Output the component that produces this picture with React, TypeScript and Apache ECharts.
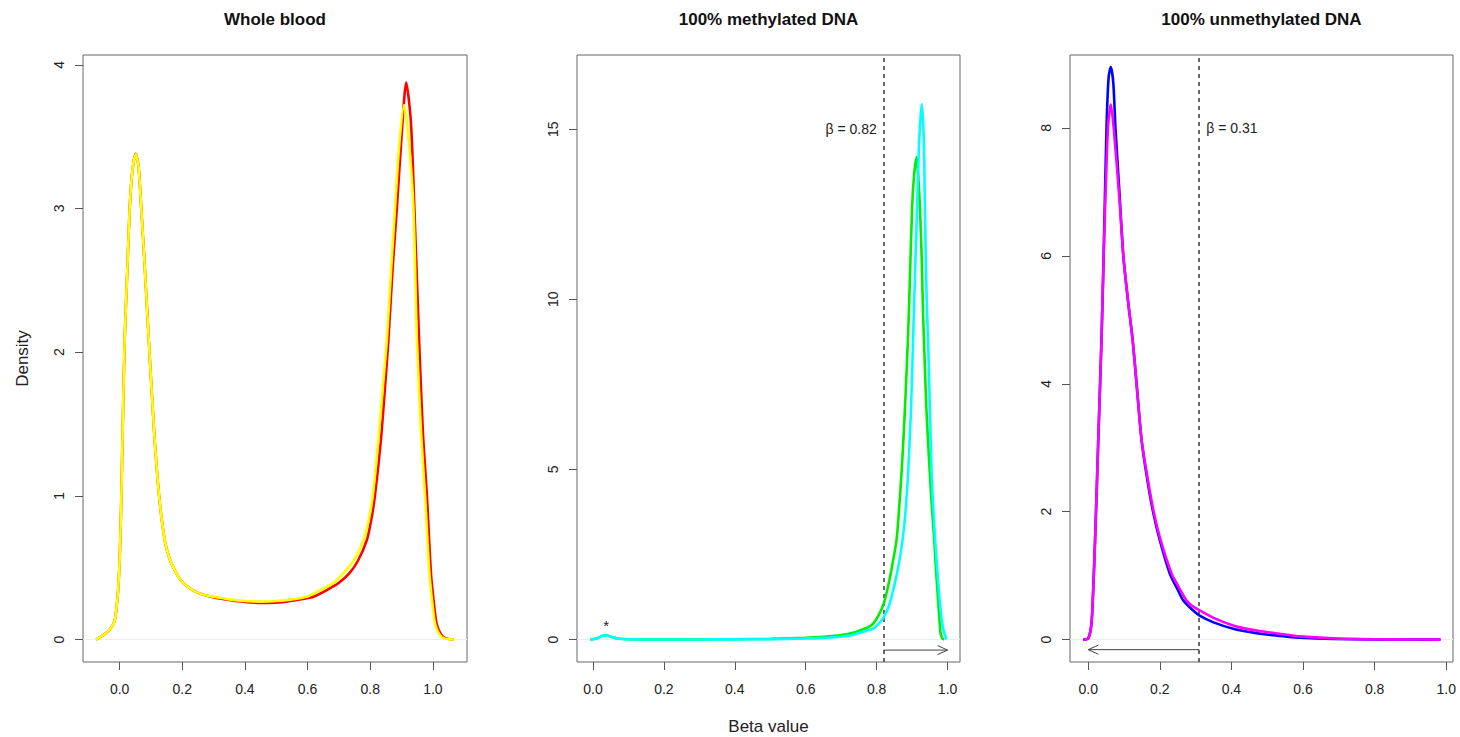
import React, { useEffect, useRef } from "react";
import * as echarts from "echarts";

// ---------- Panel 1: Whole blood ----------
const WB_RED_X = [-0.075,-0.06,-0.04,-0.025,-0.016,-0.01,-0.005,0,0.005,0.01,0.016,0.025,0.032,0.04,0.051,0.06,0.069,0.08,0.093,0.11,0.126,0.144,0.16,0.181,0.2,0.234,0.27,0.309,0.35,0.4,0.46,0.52,0.58,0.62,0.66,0.7,0.733,0.76,0.789,0.803,0.815,0.834,0.847,0.858,0.872,0.885,0.9,0.915,0.93,0.941,0.956,0.968,0.981,0.994,1.005,1.012,1.025,1.04,1.066];
const WB_RED_Y = [0,0.02,0.05,0.09,0.13,0.22,0.34,0.55,0.95,1.5,2.085,2.6,3.0,3.25,3.38,3.3,3.0,2.6,2.085,1.45,1.0,0.69,0.56,0.46,0.4,0.343,0.31,0.29,0.275,0.262,0.255,0.26,0.28,0.3,0.343,0.395,0.46,0.545,0.69,0.83,1.0,1.388,1.75,2.085,2.6,3.0,3.5,3.876,3.6,3.0,2.085,1.45,1.0,0.46,0.22,0.11,0.04,0.01,0];
const WB_YEL_X = [-0.075,-0.06,-0.04,-0.025,-0.016,-0.01,-0.005,0,0.005,0.01,0.016,0.025,0.032,0.04,0.051,0.06,0.069,0.08,0.093,0.11,0.126,0.144,0.16,0.181,0.2,0.234,0.27,0.309,0.35,0.4,0.45,0.5,0.55,0.6,0.64,0.68,0.714,0.75,0.778,0.795,0.808,0.826,0.84,0.853,0.866,0.879,0.893,0.908,0.922,0.938,0.949,0.962,0.975,0.989,1.0,1.007,1.02,1.035,1.066];
const WB_YEL_Y = [0,0.02,0.05,0.09,0.13,0.22,0.34,0.55,0.95,1.5,2.085,2.6,3.0,3.25,3.377,3.3,3.0,2.6,2.085,1.45,1.0,0.69,0.56,0.46,0.4,0.343,0.31,0.295,0.28,0.268,0.264,0.268,0.28,0.3,0.343,0.39,0.46,0.56,0.69,0.83,1.0,1.388,1.75,2.085,2.55,3.0,3.45,3.72,3.5,3.0,2.085,1.45,1.0,0.46,0.22,0.11,0.04,0.01,0];

// ---------- Panel 2: 100% methylated DNA ----------
const ME_GREEN_X = [-0.008,0.01,0.025,0.035,0.05,0.07,0.1,0.2,0.3,0.4,0.5,0.6,0.65,0.7,0.73,0.753,0.775,0.79,0.805,0.82,0.835,0.846,0.856,0.863,0.87,0.875,0.88,0.888,0.892,0.9,0.906,0.913,0.918,0.922,0.927,0.931,0.936,0.94,0.945,0.95,0.955,0.959,0.963,0.968,0.975,0.98,0.985,0.99];
const ME_GREEN_Y = [0,0.03,0.1,0.13,0.08,0.03,0.01,0.005,0.005,0.01,0.02,0.05,0.08,0.13,0.19,0.27,0.36,0.47,0.7,1.06,1.7,2.3,2.92,3.8,4.88,5.8,6.84,8.8,10,12.72,13.7,14.18,13.5,12.72,11.2,9.5,8,6.84,5.8,4.88,4.0,3.41,2.8,1.94,0.9,0.2,0.03,0];
const ME_CYAN_X = [-0.008,0.01,0.025,0.035,0.05,0.07,0.1,0.2,0.3,0.4,0.5,0.6,0.65,0.7,0.73,0.753,0.775,0.79,0.805,0.82,0.835,0.85,0.862,0.872,0.88,0.887,0.892,0.897,0.902,0.906,0.914,0.92,0.927,0.933,0.936,0.941,0.945,0.95,0.955,0.96,0.965,0.972,0.979,0.988,0.997];
const ME_CYAN_Y = [0,0.03,0.1,0.13,0.08,0.03,0.01,0.003,0.003,0.005,0.01,0.03,0.05,0.08,0.13,0.2,0.27,0.32,0.45,0.66,1.0,1.6,2.2,2.85,3.6,4.6,5.6,6.84,8.5,10,12.72,14.68,15.74,14.68,12.72,10,8.8,6.84,4.88,3.8,2.92,1.9,1.0,0.3,0];

// ---------- Panel 3: 100% unmethylated DNA ----------
const UN_BLUE_X = [-0.014,0,0.009,0.014,0.019,0.024,0.028,0.037,0.043,0.051,0.057,0.063,0.07,0.076,0.087,0.098,0.111,0.124,0.135,0.149,0.165,0.181,0.2,0.228,0.25,0.265,0.29,0.31,0.35,0.405,0.45,0.498,0.55,0.59,0.684,0.8,0.9,0.984];
const UN_BLUE_Y = [0,0.02,0.25,0.8,1.55,2.4,3.12,4.685,6.0,8.0,8.8,8.95,8.7,8.0,7.0,6.0,5.3,4.685,4.0,3.12,2.5,2.0,1.55,1.03,0.78,0.615,0.47,0.38,0.27,0.17,0.12,0.08,0.05,0.03,0.01,0.003,0.001,0];
const UN_MAG_X = [-0.014,0,0.009,0.014,0.019,0.024,0.028,0.037,0.043,0.055,0.063,0.071,0.087,0.098,0.111,0.124,0.135,0.149,0.165,0.181,0.2,0.233,0.25,0.274,0.29,0.31,0.35,0.405,0.45,0.498,0.55,0.59,0.684,0.8,0.9,0.984];
const UN_MAG_Y = [0,0.02,0.25,0.8,1.55,2.4,3.12,4.685,6.0,8.0,8.37,8.0,6.9,6.0,5.3,4.685,4.0,3.12,2.55,2.05,1.6,1.03,0.85,0.615,0.53,0.46,0.34,0.22,0.16,0.12,0.08,0.05,0.02,0.006,0.002,0];

// ---------- Axes / annotations ----------
const TITLES = ["Whole blood", "100% methylated DNA", "100% unmethylated DNA"];
const X_TICKS = [0, 0.2, 0.4, 0.6, 0.8, 1.0];
const Y_TICKS = [[0, 1, 2, 3, 4], [0, 5, 10, 15], [0, 2, 4, 6, 8]];
const X_RANGES = [[-0.117, 1.109], [-0.045, 1.035], [-0.051, 1.019]];
const Y_RANGES = [[-0.156, 4.068], [-0.66, 17.18], [-0.35, 9.14]];
const Y_LABEL = "Density";
const X_LABEL = "Beta value";

const BETA_CUT_METH = 0.82;
const BETA_CUT_UNMETH = 0.31;
const BETA_TEXT_METH = "β = 0.82";
const BETA_TEXT_UNMETH = "β = 0.31";
const BETA_TEXT_Y = [15, 8];
const ARROW_METH = [0.82, 1.0, -0.31];
const ARROW_UNMETH = [0.31, 0.0, -0.157];
const STAR_POS = [0.037, 0.4];

const FONT = '"Liberation Sans", Arial, Helvetica, sans-serif';
const GRIDS = [
  { left: 83, top: 55, width: 384, height: 607 },
  { left: 577, top: 55, width: 383, height: 607 },
  { left: 1070, top: 55, width: 383, height: 607 },
];

function pairs(xs: number[], ys: number[]) {
  return xs.map((x, i) => [x, ys[i]]);
}

function curve(idx: number, xs: number[], ys: number[], color: string, mark?: any) {
  const s: any = {
    type: "line",
    xAxisIndex: idx,
    yAxisIndex: idx,
    data: pairs(xs, ys),
    showSymbol: false,
    smooth: 0.25,
    lineStyle: { color, width: 2.6 },
    itemStyle: { color },
    silent: true,
    z: 3,
  };
  if (mark) s.markLine = mark;
  return s;
}

function baseMark(vline?: number) {
  const data: any[] = [
    { yAxis: 0, lineStyle: { color: "#ededed", width: 1, type: "solid" } },
  ];
  if (vline !== undefined) {
    data.push({ xAxis: vline, lineStyle: { color: "#444", width: 1.6, type: [4, 4] } });
  }
  return { silent: true, symbol: ["none", "none"], label: { show: false }, data, z: 1 };
}

function arrowSeries(idx: number, arrow: number[]) {
  return {
    type: "custom",
    xAxisIndex: idx,
    yAxisIndex: idx,
    silent: true,
    clip: false,
    data: [arrow],
    renderItem: (_p: any, api: any) => {
      const a = api.coord([api.value(0), api.value(2)]);
      const b = api.coord([api.value(1), api.value(2)]);
      const dir = Math.sign(b[0] - a[0]);
      const hl = 10;
      const hw = 4.5;
      return {
        type: "group",
        children: [
          { type: "line", shape: { x1: a[0], y1: a[1], x2: b[0], y2: b[1] }, style: { stroke: "#444", lineWidth: 1 } },
          {
            type: "polyline",
            shape: { points: [[b[0] - dir * hl, b[1] - hw], [b[0], b[1]], [b[0] - dir * hl, b[1] + hw]] },
            style: { stroke: "#444", fill: null, lineWidth: 1 },
          },
        ],
      };
    },
  };
}

function textSeries(idx: number, pos: number[], text: string, align: string, dx: number, size: number) {
  return {
    type: "custom",
    xAxisIndex: idx,
    yAxisIndex: idx,
    silent: true,
    clip: false,
    data: [pos],
    renderItem: (_p: any, api: any) => {
      const p = api.coord([api.value(0), api.value(1)]);
      return {
        type: "text",
        x: p[0] + dx,
        y: p[1],
        style: { text, fill: "#222", fontSize: size, fontFamily: FONT, align, verticalAlign: "middle" },
      };
    },
  };
}

export default function App() {
  const ref = useRef<HTMLDivElement>(null);
  useEffect(() => {
    document.body.style.margin = "0";
    const chart = echarts.init(ref.current!, null, { renderer: "svg" });

    const grid = GRIDS.map((g) => ({ ...g, show: true, borderColor: "#666", borderWidth: 1, backgroundColor: "transparent" }));
    const xAxis = [0, 1, 2].map((i) => ({
      type: "value",
      gridIndex: i,
      min: X_RANGES[i][0],
      max: X_RANGES[i][1],
      axisLine: { show: false, onZero: false },
      splitLine: { show: false },
      axisTick: { show: true, customValues: X_TICKS, length: 8, lineStyle: { color: "#555" } },
      axisLabel: {
        customValues: X_TICKS,
        formatter: (v: number) => v.toFixed(1),
        fontSize: 14,
        fontFamily: FONT,
        color: "#222",
        margin: 20,
      },
    }));
    const yAxis = [0, 1, 2].map((i) => ({
      type: "value",
      gridIndex: i,
      min: Y_RANGES[i][0],
      max: Y_RANGES[i][1],
      axisLine: { show: false, onZero: false },
      splitLine: { show: false },
      axisTick: { show: true, customValues: Y_TICKS[i], length: 8, lineStyle: { color: "#555" } },
      axisLabel: {
        customValues: Y_TICKS[i],
        formatter: (v: number) => String(v),
        rotate: 90,
        fontSize: 14,
        fontFamily: FONT,
        color: "#222",
        margin: 17,
      },
    }));

    const series: any[] = [
      curve(0, WB_RED_X, WB_RED_Y, "#ff0000", baseMark()),
      curve(0, WB_YEL_X, WB_YEL_Y, "#ffff00"),
      curve(1, ME_GREEN_X, ME_GREEN_Y, "#00ee00", baseMark(BETA_CUT_METH)),
      curve(1, ME_CYAN_X, ME_CYAN_Y, "#00ffff"),
      curve(2, UN_BLUE_X, UN_BLUE_Y, "#0000ff", baseMark(BETA_CUT_UNMETH)),
      curve(2, UN_MAG_X, UN_MAG_Y, "#ff00ff"),
      arrowSeries(1, ARROW_METH),
      arrowSeries(2, ARROW_UNMETH),
      textSeries(1, [BETA_CUT_METH, BETA_TEXT_Y[0]], BETA_TEXT_METH, "right", -7, 14),
      textSeries(2, [BETA_CUT_UNMETH, BETA_TEXT_Y[1]], BETA_TEXT_UNMETH, "left", 7, 14),
      textSeries(1, STAR_POS, "*", "center", 0, 15),
    ];

    const graphic: any[] = GRIDS.map((g, i) => ({
      type: "text",
      x: g.left + g.width / 2,
      y: 19,
      style: { text: TITLES[i], fill: "#111", fontSize: 17, fontWeight: "bold", fontFamily: FONT, align: "center", verticalAlign: "middle" },
    }));
    graphic.push({
      type: "text",
      x: 22,
      y: GRIDS[0].top + GRIDS[0].height / 2,
      rotation: Math.PI / 2,
      style: { text: Y_LABEL, fill: "#222", fontSize: 17, fontFamily: FONT, align: "center", verticalAlign: "middle" },
    });
    graphic.push({
      type: "text",
      x: GRIDS[1].left + GRIDS[1].width / 2,
      y: 726,
      style: { text: X_LABEL, fill: "#222", fontSize: 17, fontFamily: FONT, align: "center", verticalAlign: "middle" },
    });

    chart.setOption({
      animation: false,
      backgroundColor: "#fff",
      grid,
      xAxis,
      yAxis,
      series,
      graphic,
    });
    return () => chart.dispose();
  }, []);
  return <div ref={ref} style={{ width: 1460, height: 737 }} />;
}
